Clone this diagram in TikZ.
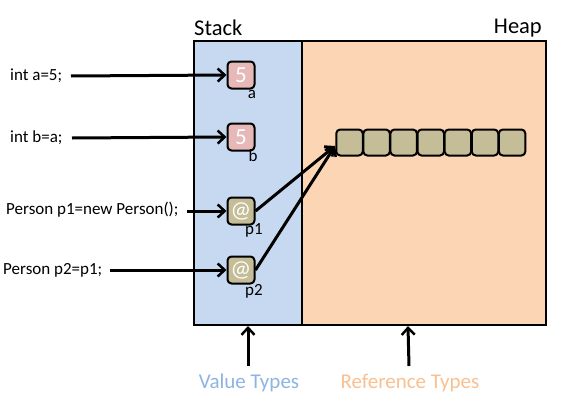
\documentclass[tikz,border=0pt]{standalone}
\usepackage{fontspec}
\setmainfont{Carlito}
\usetikzlibrary{arrows.meta}
\definecolor{stackc}{HTML}{C6D9F1}
\definecolor{heapc}{HTML}{FCD5B5}
\definecolor{valc}{HTML}{E6B9B8}
\definecolor{refc}{HTML}{C4BD97}
\definecolor{valtxt}{HTML}{8EB4E3}
\definecolor{reftxt}{HTML}{FAC090}
\begin{document}
\begin{tikzpicture}[x=1pt,y=-1pt,
  region/.style={draw=black,line width=2pt},
  cell/.style={draw=black,line width=2pt,rounded corners=4pt,minimum width=27pt,minimum height=27pt,inner sep=0pt,text=white,font=\fontsize{23}{23}\selectfont},
  hcell/.style={draw=black,line width=2pt,rounded corners=4pt,fill=refc,minimum width=26.5pt,minimum height=26pt,inner sep=0pt},
  code/.style={font=\fontsize{17}{17}\selectfont,inner sep=0pt},
  lab/.style={font=\fontsize{17}{17}\selectfont,inner sep=0pt},
  title/.style={font=\fontsize{22.5}{22.5}\selectfont,inner sep=0pt},
  arr/.style={line width=3pt,-{Straight Barb[length=7pt,width=13pt,line width=2.5pt]}},
]
\useasboundingbox (0,0) rectangle (563,407);
\fill[white] (0,0) rectangle (563,407);
\draw[region,fill=stackc] (194,41) rectangle (302,325);
\draw[region,fill=heapc] (302,41) rectangle (546,325);
\node[title,anchor=west] (stack) at (194,28) {Stack};
\node[title,anchor=east] (heap) at (542,28) {Heap};

\node[cell,fill=valc] (a) at (241,75) {5};
\node[cell,fill=valc] (b) at (241,137) {5};
\node[cell,fill=refc] (p1) at (241,211) {@};
\node[cell,fill=refc] (p2) at (241,270) {@};
\node[lab] (la) at (252,94) {a};
\node[lab] (lb) at (253,156) {b};
\node[lab] (lp1) at (254,230) {p1};
\node[lab] (lp2) at (254,291) {p2};

\foreach \i in {0,...,6} {
  \node[hcell] (h\i) at ({349.5+27.1*\i},142.5) {};
}
\coordinate (hin) at (335,146);

\node[code,anchor=west] (ca) at (10,76) {int a=5;};
\node[code,anchor=west] (cb) at (10,138) {int b=a;};
\node[code,anchor=west] (cp1) at (6,210) {Person p1=new Person();};
\node[code,anchor=west] (cp2) at (3,270) {Person p2=p1;};

\draw[arr] (71,76) -- (a.west);
\draw[arr] (72,138) -- (b.west);
\draw[arr] (187,211) -- (p1.west);
\draw[arr] (110,270) -- (p2.west);

\draw[arr] (p1.east) -- (hin);
\draw[arr] (p2.east) -- (hin);

\node[font=\fontsize{21}{21}\selectfont,text=valtxt,inner sep=0pt] (vt) at (249,383) {Value Types};
\node[font=\fontsize{21}{21}\selectfont,text=reftxt,inner sep=0pt] (rt) at (410,383) {Reference Types};
\draw[arr] (248,366) -- (248,326);
\draw[arr] (409,366) -- (408,326);
\end{tikzpicture}
\end{document}
